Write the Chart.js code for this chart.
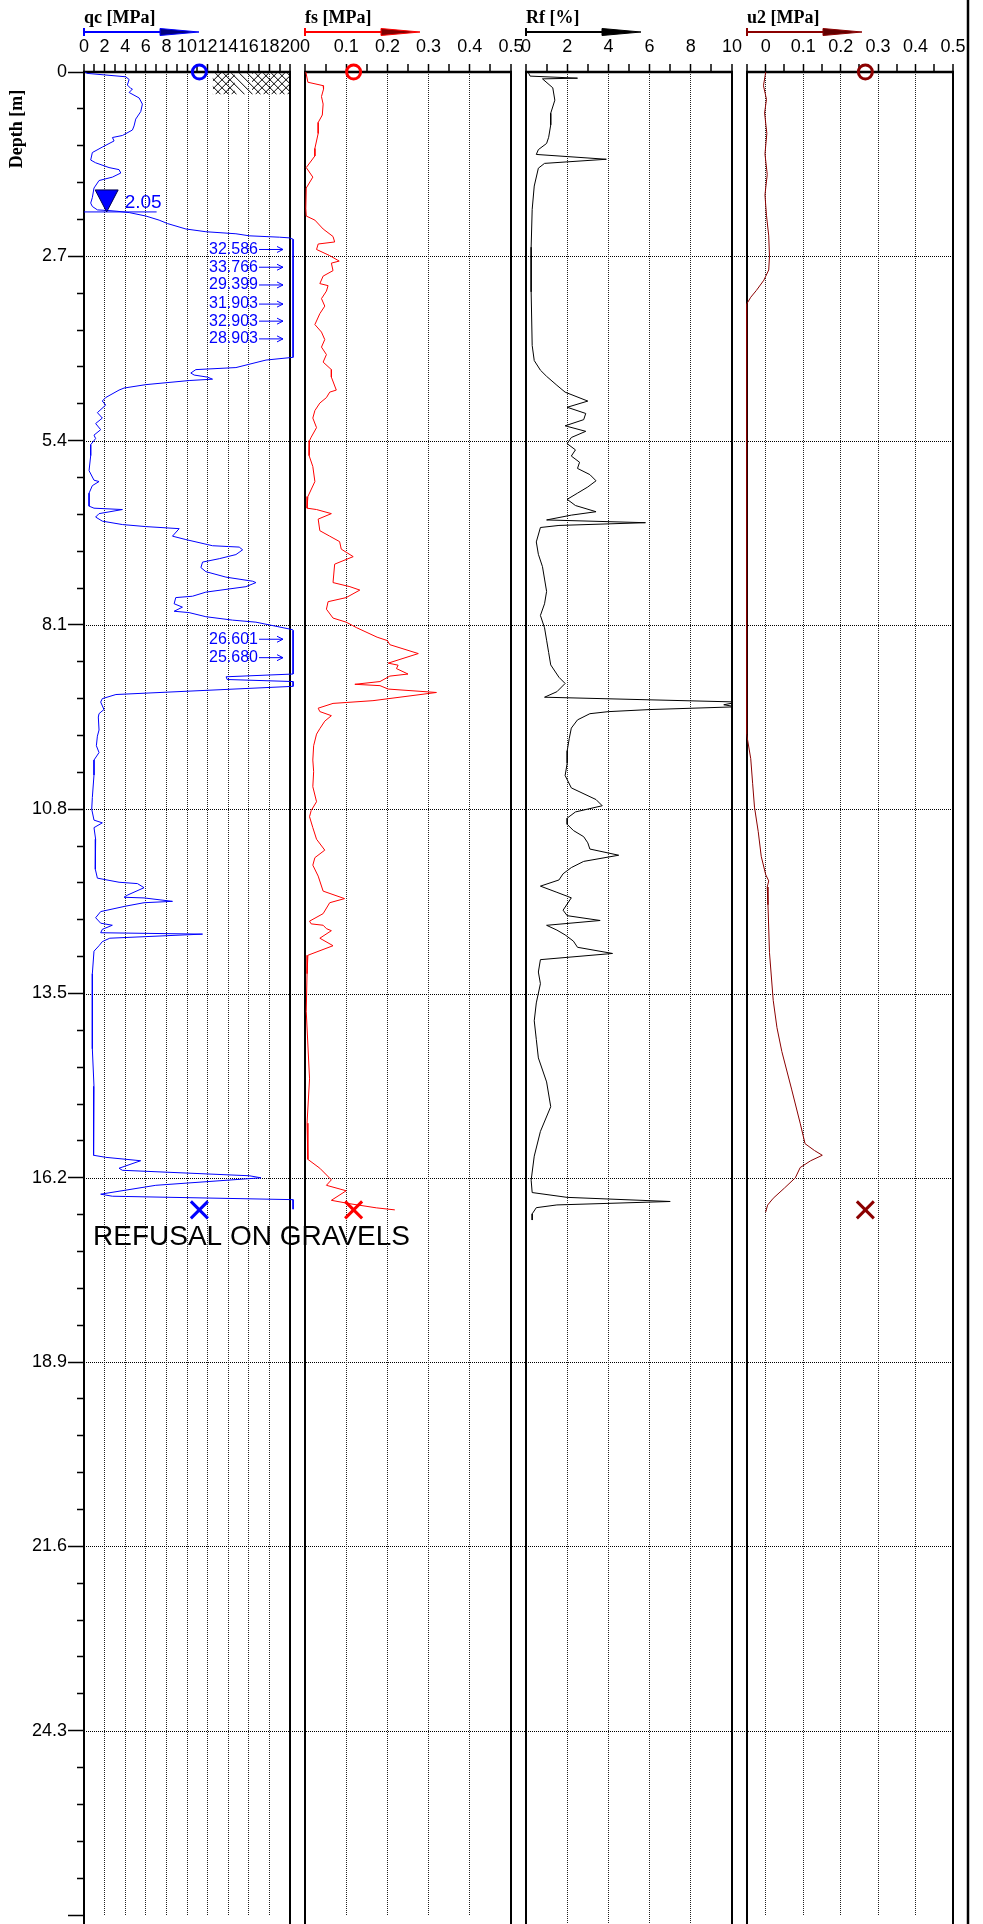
<!DOCTYPE html>
<html>
<head>
<meta charset="utf-8">
<title>CPT log</title>
<script src="https://cdn.jsdelivr.net/npm/chart.js@4.4.1/dist/chart.umd.min.js"></script>
<style>
  html, body { margin: 0; padding: 0; background: #ffffff; overflow: hidden; width: 983px; height: 1924px; }
  #wrap { position: relative; width: 983px; height: 1924px; }
  #wrap canvas { position: absolute; left: 0; top: 0; }
</style>
</head>
<body>
<div id="wrap">
  <canvas id="c0" width="983" height="1930"></canvas>
  <canvas id="c1" width="983" height="1930"></canvas>
  <canvas id="c2" width="983" height="1930"></canvas>
  <canvas id="c3" width="983" height="1930"></canvas>
</div>
<script>
// ---------------- data ----------------
const depthTickLabels = ['0', '2.7', '5.4', '8.1', '10.8', '13.5', '16.2', '18.9', '21.6', '24.3'];

const qcTickLabels = ['0', '2', '4', '6', '8', '10', '12', '14', '16', '18', '20'];
const qcMinorTicks = [1, 3, 5, 7, 9, 11, 13, 15, 17, 19];
const fsTickLabels = ['0', '0.1', '0.2', '0.3', '0.4', '0.5'];
const fsMinorTicks = [0.05, 0.15, 0.25, 0.35, 0.45];
const rfTickLabels = ['0', '2', '4', '6', '8', '10'];
const rfMinorTicks = [1, 3, 5, 7, 9];
const u2TickLabels = ['0', '0.1', '0.2', '0.3', '0.4', '0.5'];
const u2MinorTicks = [-0.05, 0.05, 0.15, 0.25, 0.35, 0.45];

// cone resistance qc [MPa]
const qcDepth = [0, 0.02, 0.07, 0.11, 0.19, 0.24, 0.25, 0.30, 0.38, 0.47, 0.58, 0.69, 0.79, 0.85, 0.93, 0.96, 1.01, 1.10, 1.18, 1.29, 1.33, 1.40, 1.43, 1.48, 1.54, 1.59, 1.70, 1.84, 1.92, 1.97, 2.02, 2.03, 2.04, 2.06, 2.11, 2.17, 2.22, 2.30, 2.34, 2.37, 2.40, 2.42, 2.43,
  2.45, 2.60, 2.86, 3.12, 3.40, 3.65, 3.91, 4.18,
  4.22, 4.33, 4.36, 4.41, 4.44, 4.47, 4.50, 4.52, 4.58, 4.63, 4.66, 4.77, 4.82, 4.88, 4.99, 5.07, 5.15, 5.24, 5.32, 5.37, 5.46, 5.62, 5.84, 5.98, 6.00, 6.06, 6.17, 6.36, 6.39, 6.41, 6.47, 6.52, 6.58, 6.63, 6.66, 6.69, 6.80, 6.85, 6.94, 6.96, 7.00, 7.07, 7.13, 7.18, 7.26, 7.32, 7.40, 7.46, 7.48, 7.54, 7.62, 7.68, 7.70, 7.79, 7.84, 7.90, 7.92, 7.98, 8.03, 8.06, 8.17,
  8.18, 8.31, 8.58, 8.82, 8.86, 8.90, 8.93, 9.00,
  9.12, 9.18, 9.23, 9.34, 9.40, 9.45, 9.64, 9.73, 9.87, 9.97, 10.08, 10.30, 10.63, 10.80, 10.96, 11.00, 11.07, 11.24, 11.46, 11.68, 11.81, 11.87, 11.89, 11.95, 12.06, 12.09, 12.10, 12.15, 12.17, 12.22, 12.30, 12.39, 12.47, 12.50, 12.56, 12.61, 12.63, 12.69, 12.74, 12.80, 12.88, 13.21, 13.76, 14.31, 14.86, 15.40, 15.87, 15.90, 15.95, 16.06, 16.09, 16.17, 16.20, 16.31, 16.44, 16.47, 16.52, 16.66];
const qcValue = [0.1, 0.3, 4.05, 4.38, 4.21, 4.54, 4.70, 4.38, 5.35, 5.67, 5.51, 5.02, 4.86, 4.70, 3.73, 2.76, 2.92, 1.78, 0.81, 0.65, 1.13, 2.43, 3.40, 3.57, 2.76, 1.46, 0.97, 0.81, 0.65, 0.81, 1.30, 2.43, 3.20, 4.40, 6.00, 7.29, 8.10, 9.89, 11.83, 14.75, 16.05, 18.96, 19.94,
  24.0, 32.586, 33.766, 29.399, 31.903, 32.903, 28.903, 22.0,
  17.67, 14.75, 10.86, 10.37, 10.70, 11.99, 12.48, 10.21, 6.00, 3.89, 3.40, 2.10, 1.78, 2.10, 1.30, 1.78, 1.13, 1.62, 0.97, 1.13, 0.65, 0.65, 0.49, 0.97, 1.46, 0.81, 0.49, 0.49, 0.97, 3.73, 1.46, 1.13, 1.78, 3.73, 6.00, 9.24, 8.59, 9.89, 12.48, 15.07, 15.40, 14.75, 13.13, 11.51, 11.35, 11.83, 13.78, 16.37, 16.69, 15.72, 11.83, 10.53, 8.91, 8.75, 9.56, 8.75, 10.21, 11.83, 14.42, 16.69, 20.26,
  22.0, 26.601, 25.680, 22.0, 13.8, 13.9, 22.0, 22.0,
  3.10, 1.78, 1.62, 1.94, 1.46, 1.39, 1.46, 1.30, 1.20, 1.46, 0.97, 0.97, 0.81, 0.75, 0.97, 1.78, 0.97, 1.13, 1.07, 1.13, 1.30, 3.40, 5.19, 5.83, 4.20, 3.89, 5.83, 8.59, 5.83, 4.05, 1.62, 1.13, 1.62, 2.75, 1.78, 1.62, 11.51, 2.50, 1.78, 1.46, 0.97, 0.81, 0.81, 0.81, 0.97, 0.89, 0.97, 2.10, 5.50, 3.40, 3.73, 16.05, 17.18, 6.97, 1.62, 2.75, 22.0, 22.0];

// values printed beside the qc trace where it runs off the scale
const qcOverDepth = [2.60, 2.86, 3.12, 3.40, 3.65, 3.91, 8.31, 8.58];
const qcOverValue = [32.586, 33.766, 29.399, 31.903, 32.903, 28.903, 26.601, 25.680];

// sleeve friction fs [MPa]
const fsDepth = [0, 0.15, 0.20, 0.25, 0.36, 0.47, 0.63, 0.74, 0.90, 1.12, 1.23, 1.40, 1.54, 1.70, 2.00, 2.11, 2.17, 2.30, 2.41, 2.49, 2.52, 2.60, 2.69, 2.77, 2.80, 2.91, 2.99, 3.10, 3.13, 3.21, 3.32, 3.43, 3.54, 3.70, 3.81, 3.92, 4.03, 4.14, 4.25, 4.36, 4.47, 4.66, 4.69, 4.77, 4.85, 4.96, 5.07, 5.21, 5.35, 5.40, 5.62, 5.78, 6.00, 6.22, 6.39, 6.41, 6.47, 6.55, 6.72, 6.80, 6.88, 6.99, 7.10, 7.21, 7.48, 7.54, 7.59, 7.70, 7.76, 7.87, 8.00, 8.06, 8.14, 8.28, 8.33, 8.39, 8.52, 8.66, 8.69, 8.74, 8.82, 8.85, 8.93, 8.97, 8.99, 9.04, 9.09, 9.21, 9.25, 9.32, 9.37, 9.43, 9.51, 9.62, 9.70, 9.87, 10.08, 10.25, 10.47, 10.69, 10.82, 10.91, 11.07, 11.24, 11.40, 11.51, 11.62, 11.78, 12.00, 12.11, 12.17, 12.33, 12.44, 12.48, 12.50, 12.55, 12.58, 12.69, 12.80, 12.94, 13.21, 13.76, 14.75, 15.40, 15.93, 16.06, 16.23, 16.31, 16.39, 16.53, 16.58, 16.64, 16.67];
const fsValue = [0.002, 0.007, 0.044, 0.045, 0.040, 0.044, 0.042, 0.032, 0.032, 0.024, 0.024, 0.003, 0.019, 0.003, 0.002, 0.003, 0.024, 0.044, 0.068, 0.072, 0.032, 0.028, 0.060, 0.083, 0.064, 0.068, 0.044, 0.036, 0.056, 0.052, 0.040, 0.048, 0.036, 0.024, 0.040, 0.048, 0.040, 0.052, 0.044, 0.064, 0.064, 0.076, 0.060, 0.052, 0.036, 0.024, 0.019, 0.028, 0.015, 0.011, 0.010, 0.019, 0.024, 0.007, 0.005, 0.028, 0.064, 0.032, 0.036, 0.060, 0.084, 0.088, 0.117, 0.072, 0.068, 0.109, 0.133, 0.100, 0.056, 0.052, 0.068, 0.100, 0.125, 0.175, 0.200, 0.206, 0.275, 0.202, 0.226, 0.222, 0.250, 0.206, 0.182, 0.121, 0.182, 0.202, 0.319, 0.165, 0.068, 0.032, 0.036, 0.064, 0.048, 0.036, 0.028, 0.021, 0.019, 0.021, 0.019, 0.028, 0.015, 0.011, 0.019, 0.028, 0.048, 0.024, 0.019, 0.032, 0.044, 0.096, 0.060, 0.044, 0.011, 0.015, 0.044, 0.052, 0.064, 0.036, 0.068, 0.007, 0.005, 0.003, 0.011, 0.005, 0.007, 0.036, 0.064, 0.052, 0.100, 0.064, 0.109, 0.173, 0.218];

// friction ratio Rf [%]
const rfDepth = [0, 0.06, 0.09, 0.10, 0.23, 0.41, 0.60, 0.77, 0.95, 1.04, 1.13, 1.20, 1.27, 1.33, 1.40, 1.66, 2.00, 2.55, 3.20, 3.98,
  4.20, 4.34, 4.43, 4.56, 4.66, 4.79, 4.88, 4.97, 5.06, 5.15, 5.23, 5.32, 5.41, 5.50, 5.59, 5.68, 5.77, 5.86, 5.95, 6.04,
  6.13, 6.22, 6.31, 6.40, 6.45, 6.52, 6.56, 6.60, 6.63, 6.84, 7.02, 7.20, 7.38, 7.56, 7.74, 7.91, 8.09, 8.27, 8.45, 8.63,
  8.81, 8.90, 9.02, 9.10, 9.17, 9.21, 9.24, 9.28, 9.31, 9.34, 9.43, 9.55, 9.70, 9.88, 10.06, 10.24, 10.42, 10.59, 10.68, 10.77,
  10.86, 10.95, 11.04, 11.13, 11.22, 11.31, 11.40, 11.49, 11.58, 11.67, 11.76, 11.85, 11.94, 12.02, 12.11, 12.20, 12.28, 12.35, 12.42, 12.49,
  12.56, 12.65, 12.74, 12.83, 12.92, 13.10, 13.27, 13.55, 13.81, 14.08, 14.35, 14.70, 15.06, 15.42, 15.78, 16.13, 16.31, 16.38, 16.44, 16.49,
  16.53, 16.62, 16.71];
const rfValue = [0.1, 0.2, 2.5, 0.8, 1.3, 1.4, 1.2, 1.2, 1.1, 1.0, 0.6, 0.5, 3.9, 0.9, 0.6, 0.4, 0.3, 0.25, 0.25, 0.3,
  0.4, 0.7, 1.0, 1.5, 1.9, 3.0, 2.0, 2.9, 2.8, 1.9, 2.9, 2.2, 2.0, 2.4, 2.2, 2.6, 2.5, 3.1, 3.4, 3.0,
  2.5, 2.0, 2.4, 3.4, 2.2, 1.0, 5.8, 1.6, 0.7, 0.5, 0.6, 0.8, 0.9, 1.0, 0.9, 0.7, 0.9, 1.0, 1.1, 1.2,
  1.6, 1.9, 1.5, 0.9, 10.3, 9.6, 10.2, 6.0, 4.0, 3.1, 2.5, 2.2, 2.1, 2.0, 2.0, 1.9, 2.2, 3.4, 3.7, 2.4,
  2.0, 2.0, 2.3, 2.8, 3.0, 3.1, 4.5, 2.8, 2.2, 1.8, 1.6, 0.7, 1.5, 2.2, 2.0, 1.8, 2.0, 3.6, 1.0, 1.5,
  1.9, 2.3, 2.5, 4.2, 0.7, 0.6, 0.7, 0.5, 0.4, 0.5, 0.6, 1.0, 1.2, 0.7, 0.4, 0.25, 0.3, 2.0, 7.0, 1.5,
  0.5, 0.3, 0.3];

// pore pressure u2 [MPa]
const u2Depth = [0, 0.2, 0.4, 0.6, 0.9, 1.2, 1.5, 1.8, 2.1, 2.4, 2.7, 2.9, 3.05, 3.2, 3.3, 3.4, 9.7, 10.06, 10.42, 10.77, 11.13, 11.49, 11.76, 11.85, 11.94, 12.2, 12.9, 13.6, 14.0, 14.35, 14.9, 15.4, 15.7, 15.8, 15.87, 15.95, 16.05, 16.2, 16.35, 16.5, 16.6, 16.7];
const u2Value = [0.0, -0.006, 0.002, -0.003, 0.003, -0.002, 0.004, -0.002, 0.002, 0.008, 0.01, 0.008, -0.005, -0.025, -0.04, -0.051, -0.051, -0.04, -0.035, -0.03, -0.02, -0.012, 0.0, 0.008, 0.004, 0.006, 0.01, 0.02, 0.03, 0.043, 0.069, 0.092, 0.105, 0.13, 0.151, 0.12, 0.092, 0.079, 0.05, 0.02, 0.005, 0.0];

const waterDepth = 2.05;
const endDepth = 16.67;
const qcMark = 11.2, fsMark = 0.118, u2Mark = 0.266;
const fillLayerTop = 0, fillLayerBottom = 0.33;

// ---------------- layout ----------------
const SANS = '"Liberation Sans", Arial, Helvetica, sans-serif';
const SERIF = '"Liberation Serif", "Times New Roman", serif';
const CANVAS_W = 983, CANVAS_H = 1930;
const PLOT_TOP = 72, PLOT_BOTTOM = 1927;
const PANEL_W = 206;
const PANEL_LEFT = [84, 305, 526, 747];
const DEPTH_MAX = 27, DEPTH_MINOR = 0.54;
const QC_DRAW_LIMIT = 20.3;

const near = (a, b) => Math.abs(a - b) < 1e-6;

function depthTicks() {
  const t = [];
  const n = Math.round(DEPTH_MAX / DEPTH_MINOR);
  for (let k = 0; k <= n; k++) t.push(+(k * DEPTH_MINOR).toFixed(2));
  return t;
}

function series(depth, values, limit) {
  return depth.map((d, i) => ({ y: d, x: limit === undefined ? values[i] : Math.min(values[i], limit) }));
}

// panel frames: left/right borders and the zero-depth axis line
function framePlugin(idx, extra) {
  return {
    id: 'frame' + idx,
    beforeDatasetsDraw(chart) {
      const { ctx, chartArea: a } = chart;
      ctx.save();
      ctx.strokeStyle = '#000';
      ctx.lineWidth = 2;
      ctx.beginPath();
      ctx.moveTo(a.left, a.top); ctx.lineTo(a.left, CANVAS_H);
      ctx.moveTo(a.right, a.top); ctx.lineTo(a.right, CANVAS_H);
      ctx.stroke();
      ctx.lineWidth = 2.5;
      ctx.beginPath();
      ctx.moveTo(a.left - 1, a.top); ctx.lineTo(a.right + 1, a.top);
      ctx.stroke();
      if (extra) extra(chart);
      ctx.restore();
    }
  };
}

// header: bold title with a direction arrow beneath it
function titlePlugin(idx, text, color, headFill) {
  return {
    id: 'title' + idx,
    afterDraw(chart) {
      const { ctx, chartArea: a } = chart;
      const x0 = a.left, x1 = a.left + 115, xh = a.left + 76, y = 32;
      ctx.save();
      ctx.fillStyle = '#000';
      ctx.font = 'bold 18px ' + SERIF;
      ctx.textBaseline = 'alphabetic';
      ctx.textAlign = 'left';
      ctx.fillText(text, x0, 23);
      ctx.strokeStyle = color;
      ctx.lineWidth = 2;
      ctx.beginPath();
      ctx.moveTo(x0, y); ctx.lineTo(xh, y);
      ctx.moveTo(x0, y - 4); ctx.lineTo(x0, y + 4);
      ctx.stroke();
      ctx.beginPath();
      ctx.moveTo(xh, y - 3.5); ctx.lineTo(x1, y); ctx.lineTo(xh, y + 3.5); ctx.closePath();
      ctx.fillStyle = headFill;
      ctx.fill();
      ctx.lineWidth = 1;
      ctx.strokeStyle = color;
      ctx.stroke();
      ctx.restore();
    }
  };
}

function xAxis(min, max, labels, minor) {
  const major = labels.map(parseFloat);
  const all = major.concat(minor).sort((p, q) => p - q);
  const isMajor = v => major.some(m => near(m, v));
  return {
    type: 'linear', position: 'top', min, max,
    afterFit(s) { s.height = PLOT_TOP; },
    afterBuildTicks(s) { s.ticks = all.map(v => ({ value: v })); },
    ticks: {
      autoSkip: false, maxRotation: 0, minRotation: 0, padding: 6, color: '#000',
      font: { family: SANS, size: 18 },
      callback(v) {
        const i = major.findIndex(m => near(m, v));
        return i < 0 ? '' : labels[i];
      }
    },
    grid: {
      drawOnChartArea: true,
      lineWidth: c => (c.tick && isMajor(c.tick.value) && !near(c.tick.value, min) && !near(c.tick.value, max)) ? 1 : 0,
      color: '#222',
      tickLength: 8, tickWidth: 1.5, tickColor: '#000'
    },
    border: { display: false, dash: [1, 1] }
  };
}

function yAxis(show) {
  const ticks = depthTicks();
  return {
    type: 'linear', position: 'left', reverse: true, min: 0, max: DEPTH_MAX, display: show,
    afterFit(s) { s.width = show ? PANEL_LEFT[0] : 0; },
    afterBuildTicks(s) { s.ticks = ticks.map(v => ({ value: v })); },
    ticks: {
      autoSkip: false, padding: 1, color: '#000', font: { family: SANS, size: 18 },
      callback(v, i) { return i % 5 === 0 && depthTickLabels[i / 5] !== undefined ? depthTickLabels[i / 5] : ''; }
    },
    grid: {
      drawOnChartArea: false, tickLength: 16, tickWidth: 1.5, tickColor: '#000',
      tickBorderDash: c => (c.index % 5 === 0) ? [] : [0, 9, 7, 100]
    },
    border: { display: false }
  };
}

function baseOptions(idx, x, showY) {
  const left = PANEL_LEFT[idx], right = left + PANEL_W;
  return {
    responsive: false, animation: false, events: [], indexAxis: 'y',
    layout: { padding: { left: showY ? 0 : left, right: CANVAS_W - right, top: 0, bottom: CANVAS_H - PLOT_BOTTOM } },
    plugins: { legend: { display: false }, tooltip: { enabled: false }, title: { display: false } },
    elements: { line: { tension: 0 }, point: { radius: 0 } },
    scales: { x, y: yAxis(showY) }
  };
}

function lineSet(data, color, clip) {
  return { data, borderColor: color, borderWidth: 1, pointRadius: 0, fill: false, clip: clip === undefined ? 1 : clip };
}

function markerSet(x, y, style, color, radius) {
  return {
    data: [{ x, y }], showLine: false, pointStyle: style, pointRadius: radius, pointBorderWidth: 3,
    pointBorderColor: color, pointBackgroundColor: 'rgba(0,0,0,0)', borderColor: color, clip: false
  };
}

// ---- qc panel extras ----
function drawQcExtras(chart) {
  const { ctx, scales: { x, y }, chartArea: a } = chart;
  ctx.save();
  // full width depth grid
  ctx.strokeStyle = '#000';
  ctx.lineWidth = 1;
  ctx.setLineDash([1, 1]);
  ctx.beginPath();
  depthTickLabels.forEach(l => {
    const d = parseFloat(l);
    if (d <= 0) return;
    const py = Math.round(y.getPixelForValue(d)) + 0.5;
    ctx.moveTo(PANEL_LEFT[0], py); ctx.lineTo(PANEL_LEFT[3] + PANEL_W, py);
  });
  ctx.stroke();
  ctx.setLineDash([]);

  // surface fill symbol
  const hx0 = x.getPixelForValue(12.5), hx1 = a.right;
  const hy0 = y.getPixelForValue(fillLayerTop) + 1, hy1 = y.getPixelForValue(fillLayerBottom);
  ctx.save();
  ctx.beginPath(); ctx.rect(hx0, hy0, hx1 - hx0, hy1 - hy0); ctx.clip();
  ctx.strokeStyle = '#000'; ctx.lineWidth = 1;
  ctx.beginPath();
  const h = hy1 - hy0;
  for (let s = hx0 - h; s < hx1 + h; s += 8) { ctx.moveTo(s, hy0); ctx.lineTo(s + h, hy1); }
  ctx.stroke();
  ctx.beginPath();
  ctx.rect(hx0, hy0, 22, h); ctx.rect(hx1 - 38, hy0, 38, h); ctx.clip();
  ctx.beginPath();
  for (let s = hx0 - h; s < hx1 + h; s += 8) { ctx.moveTo(s + h, hy0); ctx.lineTo(s, hy1); }
  ctx.stroke();
  ctx.restore();
  ctx.restore();
}

function drawQcNotes(chart) {
  const { ctx, scales: { x, y }, chartArea: a } = chart;
  ctx.save();
  // ground water level
  const wy = y.getPixelForValue(waterDepth);
  const wx = x.getPixelForValue(2.2);
  ctx.fillStyle = '#0000ff';
  ctx.strokeStyle = '#000050';
  ctx.lineWidth = 1;
  ctx.beginPath();
  ctx.moveTo(wx, wy); ctx.lineTo(wx - 11.5, wy - 22); ctx.lineTo(wx + 11.5, wy - 22); ctx.closePath();
  ctx.fill(); ctx.stroke();
  ctx.font = '19px ' + SANS;
  ctx.textBaseline = 'alphabetic';
  ctx.textAlign = 'left';
  ctx.fillText(waterDepth.toFixed(2), wx + 18, wy - 4);

  // off-scale values
  ctx.font = '16px ' + SANS;
  ctx.textAlign = 'right';
  ctx.textBaseline = 'middle';
  ctx.strokeStyle = '#0000ff';
  ctx.lineWidth = 1;
  qcOverDepth.forEach((d, i) => {
    const py = y.getPixelForValue(d);
    ctx.fillText(qcOverValue[i].toFixed(3), a.right - 32, py);
    ctx.beginPath();
    ctx.moveTo(a.right - 31, py); ctx.lineTo(a.right - 7, py);
    ctx.moveTo(a.right - 13, py - 3); ctx.lineTo(a.right - 7, py); ctx.lineTo(a.right - 13, py + 3);
    ctx.stroke();
  });

  // refusal note
  ctx.fillStyle = '#000';
  ctx.font = '28px ' + SANS;
  ctx.textAlign = 'left';
  ctx.textBaseline = 'alphabetic';
  ctx.fillText('REFUSAL ON GRAVELS', 93, y.getPixelForValue(endDepth) + 35);

  // depth axis title
  ctx.translate(17, 129);
  ctx.rotate(-Math.PI / 2);
  ctx.font = 'bold 18px ' + SERIF;
  ctx.textAlign = 'center';
  ctx.textBaseline = 'middle';
  ctx.fillText('Depth [m]', 0, 0);
  ctx.restore();
}

// ---------------- charts ----------------
const qcChart = new Chart(document.getElementById('c0'), {
  type: 'line',
  data: {
    datasets: [
      lineSet(series(qcDepth, qcValue, QC_DRAW_LIMIT), '#0000ff', { left: 1, right: 5, top: 1, bottom: 1 }),
      lineSet([{ x: 0, y: waterDepth }, { x: 7.05, y: waterDepth }], '#0000ff'),
      markerSet(qcMark, 0, 'circle', '#0000ff', 7),
      markerSet(qcMark, endDepth, 'crossRot', '#0000ff', 12)
    ]
  },
  options: baseOptions(0, xAxis(0, 20, qcTickLabels, qcMinorTicks), true),
  plugins: [framePlugin(0, drawQcExtras), titlePlugin(0, 'qc [MPa]', '#0000ff', '#000080'),
    { id: 'qcNotes', afterDatasetsDraw: drawQcNotes }]
});

const fsChart = new Chart(document.getElementById('c1'), {
  type: 'line',
  data: {
    datasets: [
      lineSet(series(fsDepth, fsValue), '#ff0000'),
      markerSet(fsMark, 0, 'circle', '#ff0000', 7),
      markerSet(fsMark, endDepth, 'crossRot', '#ff0000', 12)
    ]
  },
  options: baseOptions(1, xAxis(0, 0.5, fsTickLabels, fsMinorTicks), false),
  plugins: [framePlugin(1), titlePlugin(1, 'fs [MPa]', '#ff0000', '#800000')]
});

const rfChart = new Chart(document.getElementById('c2'), {
  type: 'line',
  data: { datasets: [lineSet(series(rfDepth, rfValue), '#000000')] },
  options: baseOptions(2, xAxis(0, 10, rfTickLabels, rfMinorTicks), false),
  plugins: [framePlugin(2), titlePlugin(2, 'Rf [%]', '#000000', '#000000')]
});

const u2Chart = new Chart(document.getElementById('c3'), {
  type: 'line',
  data: {
    datasets: [
      lineSet(series(u2Depth, u2Value), '#8b0000'),
      markerSet(u2Mark, 0, 'circle', '#8b0000', 7),
      markerSet(u2Mark, endDepth, 'crossRot', '#8b0000', 12)
    ]
  },
  options: baseOptions(3, xAxis(-0.05, 0.5, u2TickLabels, u2MinorTicks), false),
  plugins: [framePlugin(3, chart => {
    const ctx = chart.ctx;
    ctx.lineWidth = 2.5;
    ctx.beginPath(); ctx.moveTo(968, 0); ctx.lineTo(968, CANVAS_H); ctx.stroke();
  }), titlePlugin(3, 'u2 [MPa]', '#8b0000', '#600000')]
});
</script>
</body>
</html>
